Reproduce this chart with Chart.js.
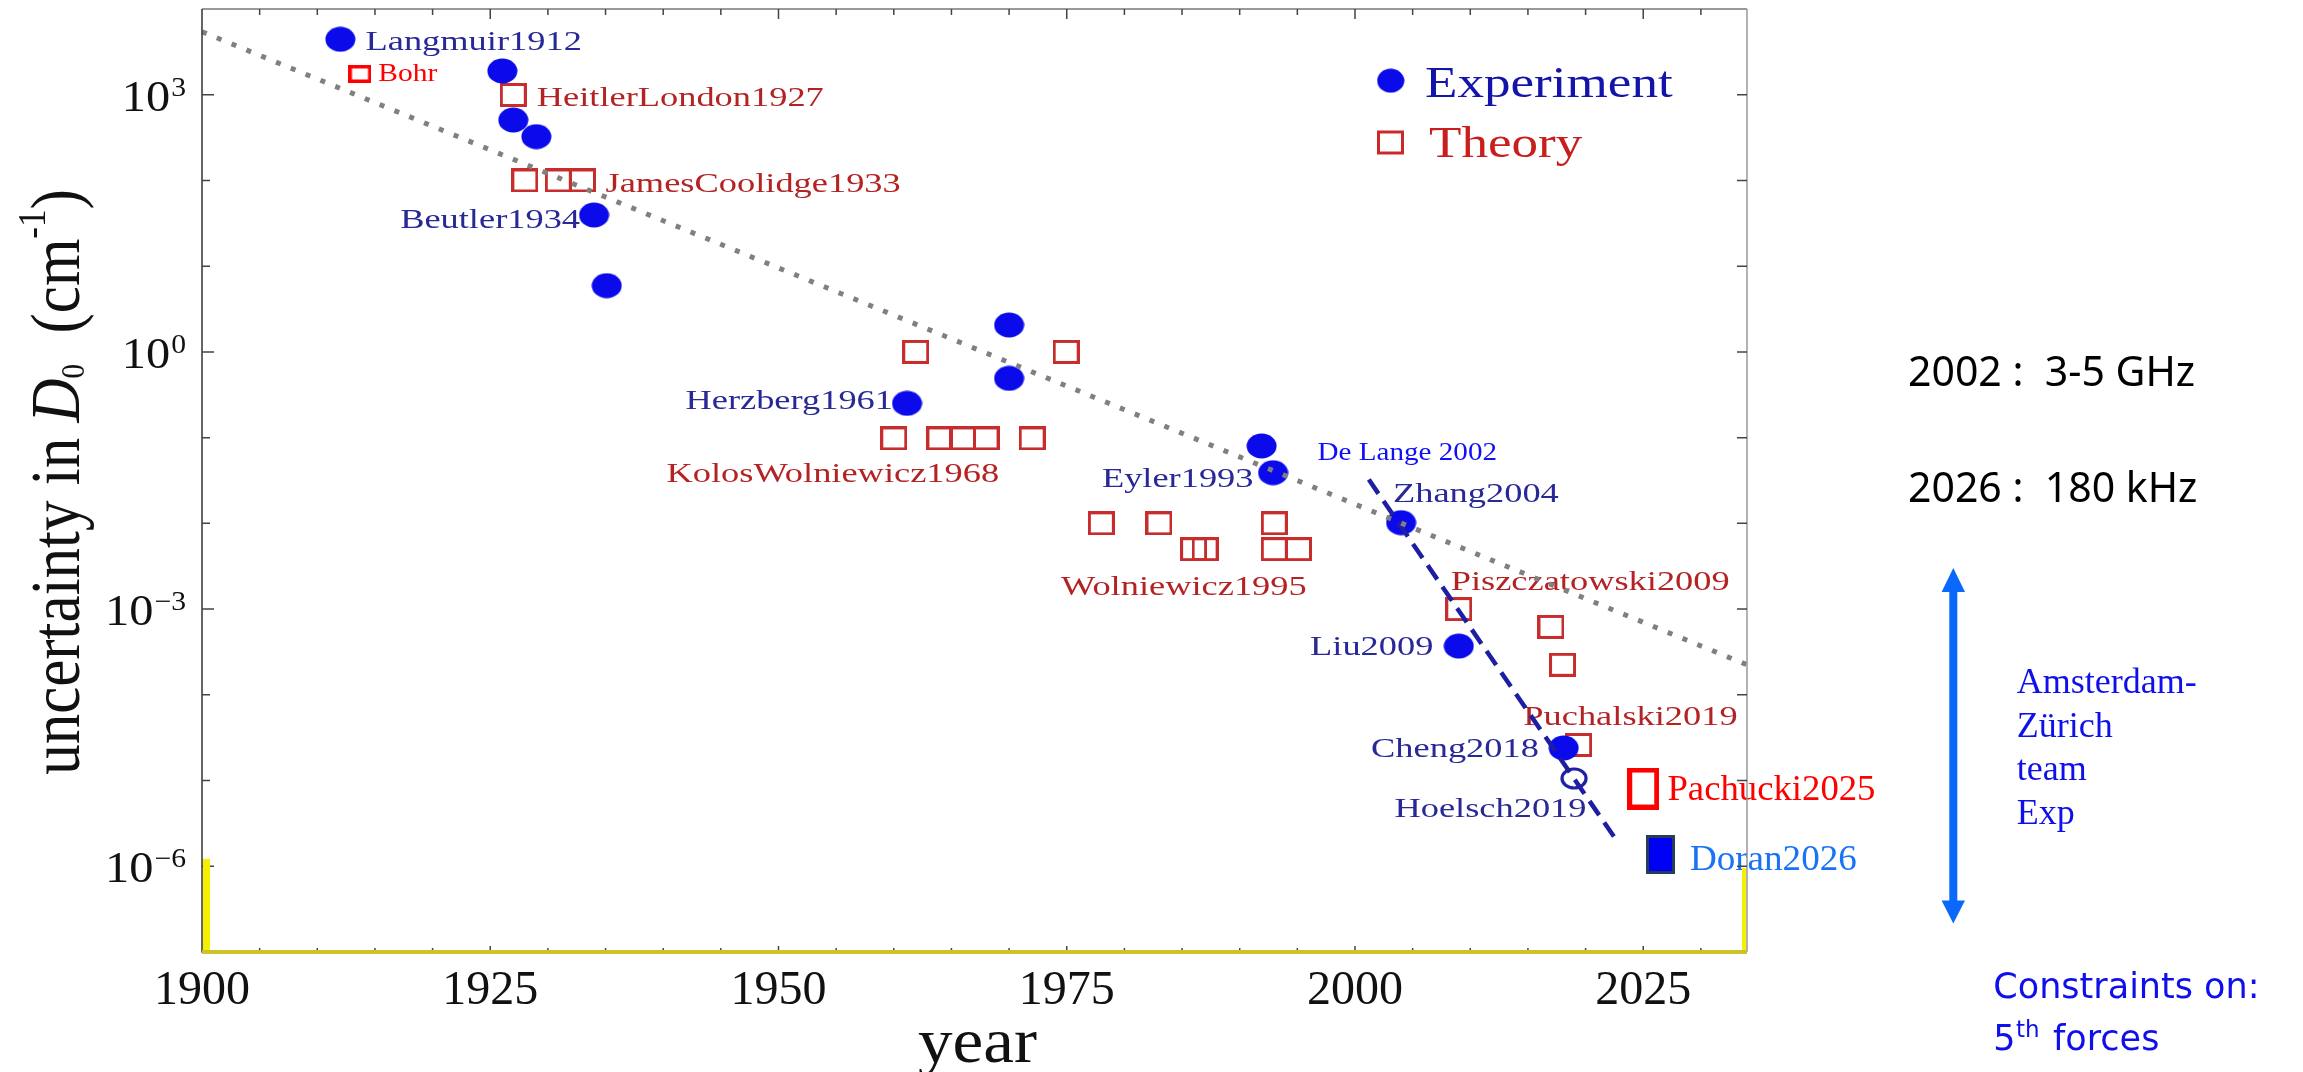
<!DOCTYPE html>
<html>
<head>
<meta charset="utf-8">
<script src="https://cdn.jsdelivr.net/npm/chart.js@4.4.1/dist/chart.umd.min.js"></script>
<style>
  html, body { margin: 0; padding: 0; background: #fff; }
  #wrap { width: 2303px; height: 1072px; }
</style>
</head>
<body>
<div id="wrap"><canvas id="chart"></canvas></div>
<script>
// ---- data (year, uncertainty in cm^-1) ----
const expYears = [1912.0, 1926.05, 1927.0, 1929.0, 1934.0, 1935.1, 1961.15, 1970.0, 1970.0, 1991.9, 1992.9, 2004.0, 2009.0, 2018.1];
const expValues = [4436, 1892, 507, 324, 39.5, 5.93, 0.251, 2.06, 0.492, 0.080, 0.039, 0.0102, 3.7e-4, 2.4e-5];

const hoelschYears = [2019.0];
const hoelschValues = [1.06e-5];

const theoryYears = [1927.0, 1928.0, 1930.9, 1933.0, 1961.9, 1974.95, 1960.0, 1964.0, 1966.0, 1968.0, 1972.0,
  1978.0, 1983.0, 1993.0, 1986.0, 1987.0, 1993.0, 1995.1, 2009.0, 2017.0, 2018.0, 2019.4];
const theoryValues = [993, 100, 100, 100, 1.0, 1.0, 0.098, 0.098, 0.098, 0.098, 0.098,
  0.010, 0.010, 0.010, 0.005, 0.005, 0.005, 0.005, 1.0e-3, 6.2e-4, 2.24e-4, 2.6e-5];

const bohrYears = [1913.7];
const bohrValues = [1746];
const pachuckiYears = [2025.0];
const pachuckiValues = [8.07e-6];
const doranYears = [2026.5];
const doranValues = [1.37e-6];

// trend lines
const trendYears = [1900, 2034];
const trendValues = [5430, 2.24e-4];
const deLangeYears = [2001.2, 2022.8];
const deLangeValues = [0.0324, 1.9e-6];

const xTicks = [1900, 1925, 1950, 1975, 2000, 2025];
const yTickExponents = [3, 0, -3, -6];

// [text, year, value, align, kind]
const pointLabels = [
  ["Langmuir1912", 1914.18, 3330, "left", "exp"],
  ["Bohr", 1915.29, 1445, "left", "bohr"],
  ["HeitlerLondon1927", 1929.03, 740, "left", "th"],
  ["JamesCoolidge1933", 1935.0, 74, "left", "th"],
  ["Beutler1934", 1932.79, 28.1, "right", "exp"],
  ["Herzberg1961", 1959.93, 0.216, "right", "exp"],
  ["KolosWolniewicz1968", 1940.28, 0.0306, "left", "th"],
  ["Eyler1993", 1991.2, 0.0268, "right", "exp"],
  ["De Lange 2002", 1996.75, 0.0548, "left", "delange"],
  ["Zhang2004", 2003.3, 0.0179, "left", "exp"],
  ["Wolniewicz1995", 1974.5, 1.46e-3, "left", "th"],
  ["Piszczatowski2009", 2008.3, 1.67e-3, "left", "th"],
  ["Liu2009", 2006.8, 2.92e-4, "right", "exp"],
  ["Puchalski2019", 2014.6, 4.45e-5, "left", "th"],
  ["Cheng2018", 2015.95, 1.90e-5, "right", "exp"],
  ["Hoelsch2019", 2020.08, 3.79e-6, "right", "exp"],
  ["Pachucki2025", 2027.1, 5.93e-6, "left", "pachucki"],
  ["Doran2026", 2029.05, 9.06e-7, "left", "doran"],
];

const SERIF = "'Liberation Serif', 'Times New Roman', serif";
const labelStyles = {
  exp: { font: "28px " + SERIF, color: "rgb(40,40,150)", sx: 1.3 },
  th: { font: "28px " + SERIF, color: "rgb(180,35,35)", sx: 1.3 },
  bohr: { font: "25px " + SERIF, color: "rgb(255,0,0)", sx: 1.18 },
  delange: { font: "26px " + SERIF, color: "rgb(15,15,250)", sx: 1.12 },
  pachucki: { font: "36px " + SERIF, color: "rgb(255,0,0)", sx: 1.02 },
  doran: { font: "36px " + SERIF, color: "rgb(25,115,245)", sx: 1.03 },
};

// ---- marker images ----
function makeMarker(w, h, draw) {
  const c = document.createElement("canvas");
  c.width = w;
  c.height = h;
  draw(c.getContext("2d"), w, h);
  return c;
}
const expDot = makeMarker(31, 26, (g, w, h) => {
  g.fillStyle = "rgb(10,10,235)";
  g.beginPath();
  g.ellipse(w / 2, h / 2, w / 2 - 0.5, h / 2 - 0.5, 0, 0, Math.PI * 2);
  g.fill();
});
const ring = makeMarker(28, 23, (g, w, h) => {
  g.strokeStyle = "rgb(30,30,160)";
  g.lineWidth = 3.2;
  g.beginPath();
  g.ellipse(w / 2, h / 2, w / 2 - 2, h / 2 - 2, 0, 0, Math.PI * 2);
  g.stroke();
});
const thBox = makeMarker(27, 24, (g, w, h) => {
  g.strokeStyle = "rgb(200,45,45)";
  g.lineWidth = 3;
  g.strokeRect(1.5, 1.5, w - 3, h - 3);
});
const bohrBox = makeMarker(23, 18, (g, w, h) => {
  g.strokeStyle = "rgb(255,0,0)";
  g.lineWidth = 3.5;
  g.strokeRect(1.75, 1.75, w - 3.5, h - 3.5);
});
const pachuckiBox = makeMarker(32, 42, (g, w, h) => {
  g.strokeStyle = "rgb(255,0,0)";
  g.lineWidth = 5;
  g.strokeRect(2.5, 2.5, w - 5, h - 5);
});
const doranBox = makeMarker(29, 39, (g, w, h) => {
  g.fillStyle = "rgb(0,0,245)";
  g.fillRect(0, 0, w, h);
  g.strokeStyle = "rgb(40,60,90)";
  g.lineWidth = 3;
  g.strokeRect(1.5, 1.5, w - 3, h - 3);
});

const toPts = (xs, ys) => xs.map((x, i) => ({ x, y: ys[i] }));

function drawText(ctx, text, x, y, font, color, sx, align) {
  ctx.save();
  ctx.font = font;
  ctx.fillStyle = color;
  ctx.textAlign = align || "left";
  ctx.textBaseline = "alphabetic";
  ctx.translate(x, y);
  ctx.scale(sx, 1);
  ctx.fillText(text, 0, 0);
  ctx.restore();
}

const decorations = {
  id: "decorations",
  beforeDatasetsDraw(chart) {
    const { ctx, scales: { x, y } } = chart;
    pointLabels.forEach(([text, yr, val, align, kind]) => {
      const s = labelStyles[kind];
      drawText(ctx, text, x.getPixelForValue(yr), y.getPixelForValue(val), s.font, s.color, s.sx, align);
    });
  },
  afterDraw(chart) {
    const { ctx, chartArea: a, scales: { x, y } } = chart;
    ctx.save();
    // frame
    ctx.lineWidth = 1.5;
    ctx.strokeStyle = "#777";
    ctx.beginPath();
    ctx.moveTo(a.left, a.top); ctx.lineTo(a.right, a.top);
    ctx.stroke();
    ctx.strokeStyle = "#999";
    ctx.beginPath();
    ctx.moveTo(a.right, a.top); ctx.lineTo(a.right, a.bottom);
    ctx.stroke();
    ctx.strokeStyle = "#333";
    ctx.beginPath();
    ctx.moveTo(a.left, a.top); ctx.lineTo(a.left, a.bottom); ctx.lineTo(a.right, a.bottom);
    ctx.stroke();

    // inward ticks
    ctx.strokeStyle = "#444";
    ctx.lineWidth = 1.5;
    ctx.beginPath();
    for (let yr = 1905; yr <= 2030; yr += 5) {
      const px = x.getPixelForValue(yr);
      const major = yr % 25 === 0;
      ctx.moveTo(px, a.top); ctx.lineTo(px, a.top + (major ? 10 : 6));
      ctx.moveTo(px, a.bottom); ctx.lineTo(px, a.bottom - (major ? 6 : 4));
    }
    for (let e = -6; e <= 3; e++) {
      const py = y.getPixelForValue(Math.pow(10, e));
      const labeled = yTickExponents.includes(e);
      ctx.moveTo(a.left, py); ctx.lineTo(a.left + (labeled ? 12 : 8), py);
      ctx.moveTo(a.right, py); ctx.lineTo(a.right - 10, py);
    }
    ctx.stroke();

    // yellow marking at the bottom
    const yl = y.getPixelForValue(1.22e-6);
    const yr2 = y.getPixelForValue(0.95e-6);
    ctx.fillStyle = "rgb(245,240,0)";
    ctx.fillRect(a.left + 1, yl, 7, a.bottom - yl);
    ctx.fillRect(a.right - 5, yr2, 4, a.bottom - yr2);
    ctx.fillStyle = "rgb(205,195,40)";
    ctx.fillRect(a.left, a.bottom - 2, a.right - a.left, 4);

    // y tick labels 10^n
    yTickExponents.forEach((e) => {
      const py = y.getPixelForValue(Math.pow(10, e));
      const sup = e < 0 ? "\u2212" + Math.abs(e) : String(e);
      ctx.font = "44px " + SERIF;
      const w10 = ctx.measureText("10").width * 1.1;
      ctx.font = "27px " + SERIF;
      const wSup = ctx.measureText(sup).width * 1.1;
      const x0 = 186 - wSup - w10 - 1;
      drawText(ctx, "10", x0, py + 16, "44px " + SERIF, "#111", 1.1, "left");
      drawText(ctx, sup, x0 + w10 + 1, py + 1, "27px " + SERIF, "#111", 1.1, "left");
    });

    // x title
    drawText(ctx, "year", (a.left + a.right) / 2 + 3, 1062, "64px " + SERIF, "#111", 1.08, "center");

    // y title
    ctx.save();
    ctx.translate(79, 482);
    ctx.rotate(-Math.PI / 2);
    ctx.scale(1, 1.15);
    ctx.fillStyle = "#111";
    const segs = [
      ["uncertainty in ", "61px " + SERIF, 0],
      ["D", "italic 61px " + SERIF, 0],
      ["0", "29px " + SERIF, 4],
      ["  (cm", "61px " + SERIF, 0],
      ["-1", "35px " + SERIF, -30],
      [")", "61px " + SERIF, 0],
    ];
    let total = 0;
    segs.forEach((s) => { ctx.font = s[1]; total += ctx.measureText(s[0]).width; });
    let cx = -total / 2;
    segs.forEach((s) => {
      ctx.font = s[1];
      ctx.fillText(s[0], cx, s[2]);
      cx += ctx.measureText(s[0]).width;
    });
    ctx.restore();

    // legend
    ctx.drawImage(expDot, 1390.7 - 14, 80.7 - 12.5, 28, 25);
    drawText(ctx, "Experiment", 1425, 96.7, "45px " + SERIF, "rgb(20,20,170)", 1.18, "left");
    ctx.strokeStyle = "rgb(205,40,40)";
    ctx.lineWidth = 3;
    ctx.strokeRect(1378.5, 132, 24, 21);
    drawText(ctx, "Theory", 1429, 156.7, "45px " + SERIF, "rgb(200,30,30)", 1.18, "left");

    // right-hand notes
    const SANS = "'Noto Sans', 'Open Sans', sans-serif";
    drawText(ctx, "2002 :  3-5 GHz", 1908, 386, "41px " + SANS, "#000", 1, "left");
    drawText(ctx, "2026 :  180 kHz", 1908, 502, "41px " + SANS, "#000", 1, "left");

    // double arrow
    ctx.fillStyle = "rgb(10,105,250)";
    ctx.fillRect(1949.3, 590, 8, 312);
    ctx.beginPath();
    ctx.moveTo(1953.3, 568); ctx.lineTo(1965, 592); ctx.lineTo(1941.6, 592); ctx.closePath();
    ctx.moveTo(1953.3, 923.5); ctx.lineTo(1965, 900.5); ctx.lineTo(1941.6, 900.5); ctx.closePath();
    ctx.fill();

    const BLUE = "rgb(15,15,235)";
    ["Amsterdam-", "Z\u00fcrich", "team", "Exp"].forEach((t, i) => {
      drawText(ctx, t, 2016.7, [693.3, 736.5, 780, 824][i], "36px " + SERIF, BLUE, 1, "left");
    });
    const DSANS = "'DejaVu Sans', Verdana, sans-serif";
    drawText(ctx, "Constraints on:", 1993.3, 998.3, "35px " + DSANS, BLUE, 1, "left");
    drawText(ctx, "5", 1993.3, 1050, "35px " + DSANS, BLUE, 1, "left");
    drawText(ctx, "th", 2016, 1037, "23px " + DSANS, BLUE, 1, "left");
    drawText(ctx, "forces", 2053, 1050, "35px " + DSANS, BLUE, 1, "left");
    ctx.restore();
  },
};

new Chart(document.getElementById("chart").getContext("2d"), {
  type: "scatter",
  data: {
    datasets: [
      {
        label: "trend",
        data: toPts(trendYears, trendValues),
        showLine: true,
        borderColor: "rgb(128,128,128)",
        borderWidth: 5,
        borderDash: [5, 11],
        pointRadius: 0,
        order: 0,
      },
      {
        label: "De Lange extrapolation",
        data: toPts(deLangeYears, deLangeValues),
        showLine: true,
        borderColor: "rgb(30,30,165)",
        borderWidth: 4.5,
        borderDash: [17, 9],
        pointRadius: 0,
        order: 1,
      },
      { label: "Experiment", data: toPts(expYears, expValues), pointStyle: expDot, pointRadius: 13, order: 2 },
      { label: "Hoelsch2019", data: toPts(hoelschYears, hoelschValues), pointStyle: ring, pointRadius: 13, order: 2 },
      { label: "Theory", data: toPts(theoryYears, theoryValues), pointStyle: thBox, pointRadius: 13, order: 3 },
      { label: "Bohr", data: toPts(bohrYears, bohrValues), pointStyle: bohrBox, pointRadius: 12, order: 3 },
      { label: "Pachucki2025", data: toPts(pachuckiYears, pachuckiValues), pointStyle: pachuckiBox, pointRadius: 20, order: 3 },
      { label: "Doran2026", data: toPts(doranYears, doranValues), pointStyle: doranBox, pointRadius: 20, order: 3 },
    ],
  },
  options: {
    responsive: true,
    maintainAspectRatio: false,
    devicePixelRatio: 1,
    animation: false,
    events: [],
    layout: { autoPadding: false, padding: { top: 9, right: 556, bottom: 0, left: 0 } },
    plugins: { legend: { display: false }, tooltip: { enabled: false } },
    scales: {
      x: {
        type: "linear",
        min: 1900,
        max: 2034,
        afterBuildTicks: (s) => { s.ticks = xTicks.map((v) => ({ value: v })); },
        afterFit: (s) => { s.height = 120; },
        ticks: {
          font: { family: SERIF, size: 48 },
          color: "#111",
          padding: 11,
          maxRotation: 0,
          autoSkip: false,
          callback: (v) => String(v),
        },
        grid: { display: false, drawTicks: false },
        border: { display: false },
      },
      y: {
        type: "logarithmic",
        min: 1e-7,
        max: 1e4,
        afterFit: (s) => { s.width = 202; },
        ticks: { display: false },
        grid: { display: false, drawTicks: false },
        border: { display: false },
      },
    },
  },
  plugins: [decorations],
});
</script>
</body>
</html>
